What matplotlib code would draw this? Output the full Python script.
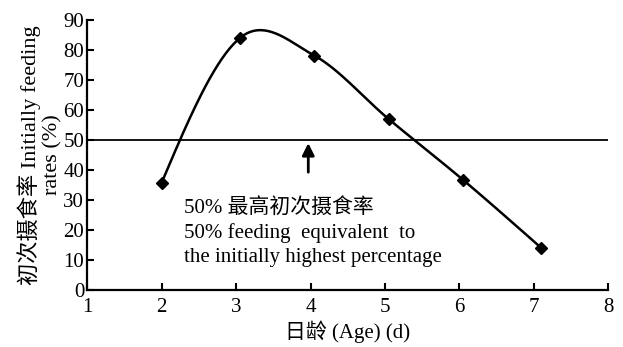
import numpy as np
import matplotlib
matplotlib.use("Agg")
import matplotlib.pyplot as plt

plt.rcParams['font.family'] = ['Liberation Serif', 'Noto Sans CJK SC']

age = [2.0, 3.05, 4.05, 5.05, 6.05, 7.1]
rate = [35.7, 84.0, 78.2, 57.0, 36.7, 14.0]
half_line = 50
xticks = [1, 2, 3, 4, 5, 6, 7, 8]
yticks = [0, 10, 20, 30, 40, 50, 60, 70, 80, 90]


def smooth(x, y, n=40):
    # hermite curve through the points, natural-ish ends
    x = np.asarray(x, float)
    y = np.asarray(y, float)
    m = np.zeros_like(y)
    m[1:-1] = (y[2:] - y[:-2]) / (x[2:] - x[:-2])
    s0 = (y[1] - y[0]) / (x[1] - x[0])
    s1 = (y[-1] - y[-2]) / (x[-1] - x[-2])
    m[0] = (3 * s0 - m[1]) / 2
    m[-1] = (3 * s1 - m[-2]) / 2
    xs, ys = [], []
    for i in range(len(x) - 1):
        h = x[i + 1] - x[i]
        t = np.linspace(0, 1, n)
        h00 = 2 * t**3 - 3 * t**2 + 1
        h10 = t**3 - 2 * t**2 + t
        h01 = -2 * t**3 + 3 * t**2
        h11 = t**3 - t**2
        xs.append(x[i] + t * h)
        ys.append(h00 * y[i] + h10 * h * m[i] + h01 * y[i + 1] + h11 * h * m[i + 1])
    return np.concatenate(xs), np.concatenate(ys)


fig = plt.figure(figsize=(6.23, 3.47), dpi=100)
ax = fig.add_axes([0.1397, 0.164, 0.837, 0.778])

sx, sy = smooth(age, rate)
ax.plot(sx, sy, color='black', lw=1.8)
ax.plot(age, rate, 'D', color='black', ms=6)
ax.plot([1, 8], [half_line, half_line], color='black', lw=1.3)

ax.annotate('', xy=(3.97, 49), xytext=(3.97, 39.3),
            arrowprops=dict(arrowstyle='-|>', color='black', lw=2,
                            mutation_scale=18, shrinkA=0, shrinkB=0))

ax.text(2.3, 27.3, '50% 最高初次摄食率', fontsize=15, va='center', weight='medium')
ax.text(2.3, 19.0, '50% feeding  equivalent  to', fontsize=15, va='center')
ax.text(2.3, 11.0, 'the initially highest percentage', fontsize=15, va='center')

ax.set_xlim(1, 8)
ax.set_ylim(0, 90)
ax.set_xticks(xticks)
ax.set_yticks(yticks)
ax.tick_params(direction='in', length=5, width=1.5, labelsize=15)
ax.tick_params(axis='x', pad=6)
ax.tick_params(axis='y', pad=2)
ax.spines['top'].set_visible(False)
ax.spines['right'].set_visible(False)
ax.spines['left'].set_linewidth(1.6)
ax.spines['bottom'].set_linewidth(1.6)

ax.set_xlabel('日龄 (Age) (d)', fontsize=15, labelpad=2)
ax.set_ylabel('初次摄食率 Initially feeding\nrates (%)', fontsize=16,
              labelpad=1, linespacing=1.15)

fig.savefig('out.png', dpi=100)
